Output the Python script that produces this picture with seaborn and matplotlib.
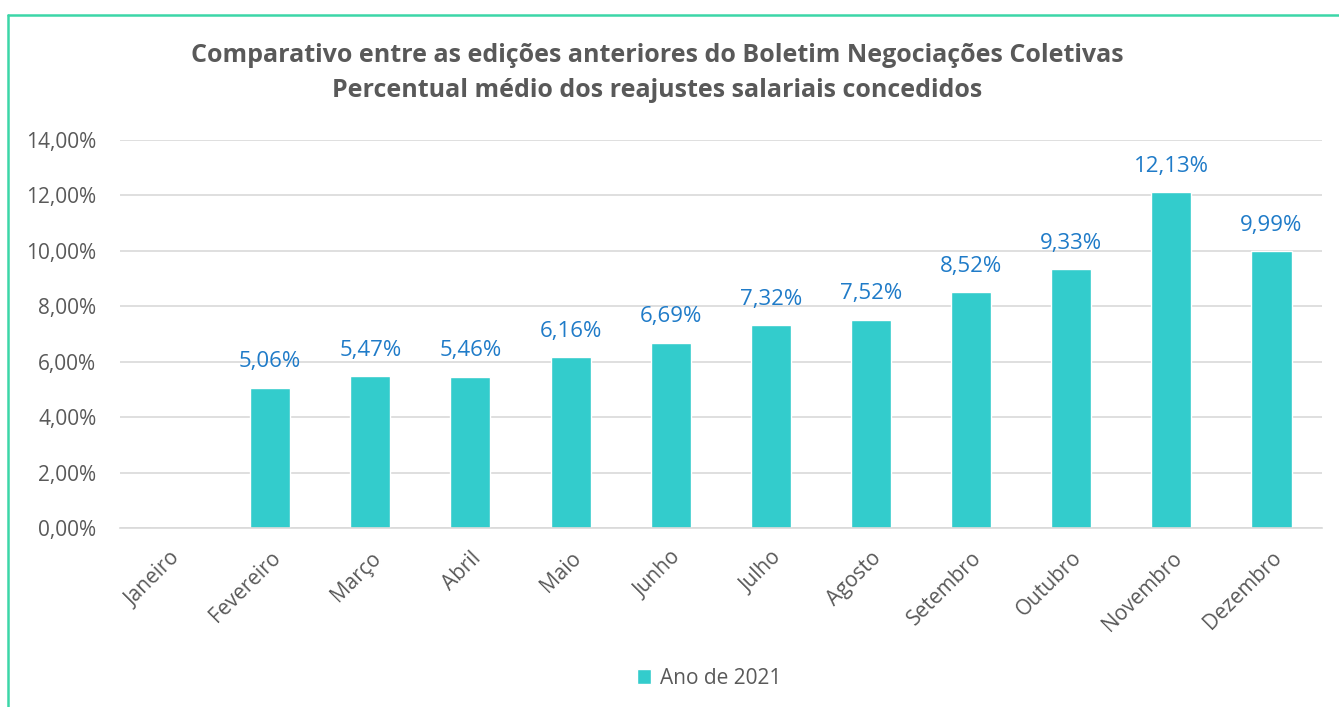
import matplotlib
matplotlib.use("Agg")
import matplotlib.pyplot as plt
import seaborn as sns
import numpy as np
import pandas as pd
from matplotlib.lines import Line2D

months = ["Janeiro", "Fevereiro", "Março", "Abril", "Maio", "Junho", "Julho",
          "Agosto", "Setembro", "Outubro", "Novembro", "Dezembro"]
values = [0.0, 5.06, 5.47, 5.46, 6.16, 6.69, 7.32, 7.52, 8.52, 9.33, 12.13, 9.99]
has_value = [False] + [True] * 11
series_name = "Ano de 2021"
yticks = [0, 2, 4, 6, 8, 10, 12, 14]

sns.set_theme(style="white")
plt.rcParams['font.family'] = ['Open Sans', 'DejaVu Sans']

df = pd.DataFrame({"Mês": months, "Valor": values, "Série": series_name})

fig = plt.figure(figsize=(13.39, 7.07), dpi=100)
ax = fig.add_axes([0.0896, 0.2532, 0.8974, 0.5488])

bar_color = "#33CCCC"
sns.barplot(data=df, x="Mês", y="Valor", hue="Série", palette=[bar_color],
            width=0.4, ax=ax, saturation=1, legend=True)

ax.set_xlim(-0.5, 11.5)
ax.set_ylim(0, 14)
ax.set_yticks(yticks)
ax.set_yticklabels([f"{v:.2f}".replace(".", ",") + "%" for v in yticks],
                   fontsize=15, color="#595959")
ax.yaxis.grid(True, color="#D9D9D9", linewidth=1.2)
ax.set_axisbelow(True)
for s in ["top", "right", "left"]:
    ax.spines[s].set_visible(False)
ax.spines["bottom"].set_color("#D9D9D9")
ax.spines["bottom"].set_linewidth(1.2)
ax.tick_params(axis="y", length=0, pad=17)
ax.tick_params(axis="x", length=0, pad=14)
ax.set_xlabel("")
ax.set_ylabel("")
plt.setp(ax.get_xticklabels(), rotation=45, ha="right", rotation_mode="anchor",
         fontsize=15, color="#595959")

labels = [f"{v:.2f}".replace(".", ",") + "%" if hv else "" for v, hv in zip(values, has_value)]
ax.bar_label(ax.containers[0], labels=labels, padding=11, fontsize=16, color="#1F7BC8")

leg = ax.legend(loc="center", bbox_to_anchor=(0.49, -0.387), frameon=False,
                fontsize=15, handlelength=0.7, handleheight=0.7, handletextpad=0.4)
for t in leg.get_texts():
    t.set_color("#595959")

fig.text(0.491, 0.922, "Comparativo entre as edições anteriores do Boletim Negociações Coletivas",
         ha="center", va="center", fontsize=18, fontweight="bold", color="#595959")
fig.text(0.491, 0.872, "Percentual médio dos reajustes salariais concedidos",
         ha="center", va="center", fontsize=18, fontweight="bold", color="#595959")

border = "#3CD6A8"
fig.add_artist(Line2D([8/1339, 1.0], [1-15/707, 1-15/707], transform=fig.transFigure,
                      color=border, linewidth=1.8))
fig.add_artist(Line2D([8/1339, 8/1339], [0, 1-15/707], transform=fig.transFigure,
                      color=border, linewidth=1.8))

fig.savefig("out.png", dpi=100)
